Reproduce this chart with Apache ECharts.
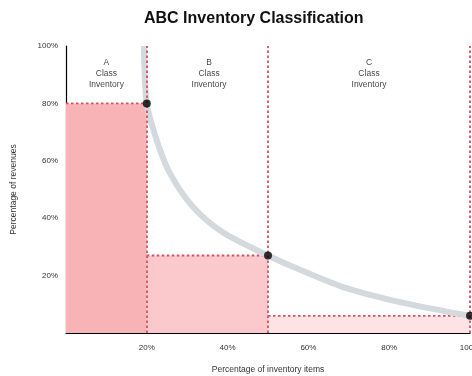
<!DOCTYPE html>
<html>
<head>
<meta charset="utf-8">
<script src="https://cdn.jsdelivr.net/npm/echarts@6/dist/echarts.min.js"></script>
<style>
  html, body { margin: 0; padding: 0; background: #fff; }
  #main { width: 472px; height: 376px; }
</style>
</head>
<body>
<div id="main"></div>
<script>
// class bands: start / end on x (% of items), share of revenues
const classNames = ['A', 'B', 'C']
const classStart = [0, 20, 50]
const classEnd = [20, 50, 100]
const classShare = [80, 27, 6]
const classColors = ['#f8b3b6', '#fbc9cc', '#fde3e6']
const labelX = [10, 35.4, 75]
const labelY = 90.5

// cumulative curve
const curveX = [19.3, 20, 22.5, 25.7, 31.4, 38.9, 50, 56, 68.6, 81, 93, 100]
const curveY = [100, 80, 67, 55.7, 44, 35, 27, 23.2, 16, 11.3, 7.8, 6]

const dashColor = '#d8525e'

var myChart = echarts.init(document.getElementById('main'))

let bands = []
let points = []
let labels = []
for (let i = 0; i < classNames.length; i++) {
    bands.push({ value: [classStart[i], classEnd[i], classShare[i]], itemStyle: { color: classColors[i] } })
    points.push([classEnd[i], classShare[i]])
    labels.push({ value: [labelX[i], labelY], name: classNames[i] + '\nClass\nInventory' })
}

function renderBand(params, api) {
    const p0 = api.coord([api.value(0), 0])
    const p1 = api.coord([api.value(1), api.value(2)])
    return {
        type: 'group',
        children: [
            {
                type: 'rect',
                shape: { x: p0[0], y: p1[1], width: p1[0] - p0[0], height: p0[1] - p1[1] },
                style: { fill: api.visual('color') }
            },
            {
                type: 'line',
                shape: { x1: p0[0], y1: p1[1], x2: p1[0], y2: p1[1] },
                style: { stroke: dashColor, lineWidth: 1.8, lineDash: [2.5, 2.5] },
                z2: 5
            }
        ]
    }
}

const axisFont = { fontSize: 8, color: '#333', fontFamily: 'Liberation Sans' }

option = {
    animation: false,
    title: {
        text: 'ABC Inventory Classification',
        left: 139,
        top: 6,
        textStyle: { fontSize: 16, fontWeight: 'bold', color: '#111', fontFamily: 'Liberation Sans' }
    },
    grid: { left: 66, right: 2, top: 46, bottom: 43, outerBoundsMode: 'none', containLabel: false },
    xAxis: {
        type: 'value',
        min: 0, max: 100, interval: 20,
        name: 'Percentage of inventory items',
        nameLocation: 'middle',
        nameGap: 32,
        nameTextStyle: { fontSize: 8.5, color: '#333', fontFamily: 'Liberation Sans' },
        axisLine: { lineStyle: { color: '#000', width: 1.2 } },
        axisTick: { show: false },
        splitLine: { show: false },
        axisLabel: Object.assign({ margin: 11, showMinLabel: false, formatter: '{value}%' }, axisFont)
    },
    yAxis: {
        type: 'value',
        min: 0, max: 100, interval: 20,
        name: 'Percentage of revenues',
        nameLocation: 'middle',
        nameGap: 48,
        nameTextStyle: { fontSize: 8.5, color: '#333', fontFamily: 'Liberation Sans' },
        axisLine: { show: true, lineStyle: { color: '#000', width: 1.2 } },
        axisTick: { show: false },
        splitLine: { show: false },
        axisLabel: Object.assign({ margin: 8, showMinLabel: false, formatter: '{value}%' }, axisFont)
    },
    series: [
        {
            type: 'custom',
            renderItem: renderBand,
            encode: { x: [0, 1], y: 2 },
            data: bands,
            z: 1,
            markLine: {
                silent: true,
                symbol: 'none',
                label: { show: false },
                lineStyle: { color: dashColor, width: 1.8, type: [2.5, 2.5] },
                data: classEnd.map(v => ({ xAxis: v }))
            }
        },
        {
            type: 'line',
            data: curveX.map((x, i) => [x, curveY[i]]),
            smooth: 0.3,
            showSymbol: false,
            lineStyle: { color: '#d3d9dc', width: 6 },
            z: 2
        },
        {
            type: 'scatter',
            data: points,
            symbolSize: 8,
            itemStyle: { color: '#000' },
            z: 5
        },
        {
            type: 'scatter',
            data: labels,
            symbolSize: 0,
            label: {
                show: true,
                position: 'inside',
                formatter: '{b}',
                fontSize: 8.5,
                lineHeight: 11,
                color: '#111',
                fontFamily: 'Liberation Sans'
            },
            z: 6
        }
    ]
}
myChart.setOption(option)
</script>
</body>
</html>
